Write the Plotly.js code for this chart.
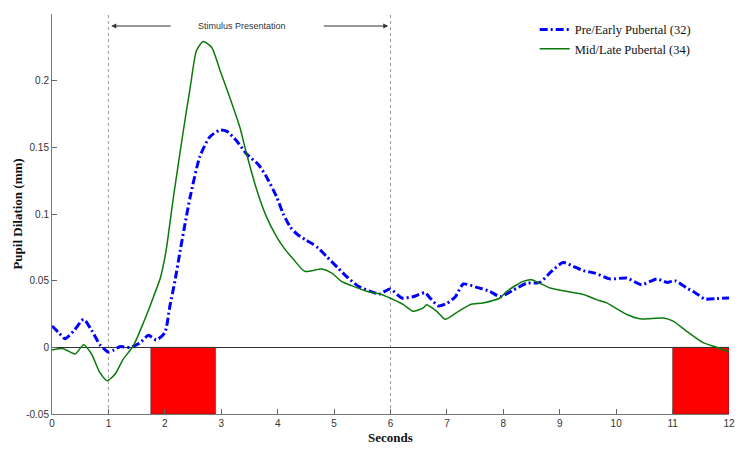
<!DOCTYPE html>
<html>
<head>
<meta charset="utf-8">
<script src="https://cdn.plot.ly/plotly-3.0.1.min.js"></script>
<style>html,body{margin:0;padding:0;background:#fff;}#chart{width:750px;height:453px;}</style>
</head>
<body>
<div id="chart"></div>
<script>
// Pre/Early Pubertal (32)
const blueX = [0,0.12,0.23,0.4,0.56,0.7,0.85,1.0,1.1,1.2,1.38,1.55,1.71,1.85,2.0,2.09,2.18,2.27,2.36,2.45,2.62,2.80,2.98,3.10,3.27,3.45,3.66,3.80,3.98,4.1,4.22,4.34,4.48,4.60,4.72,4.87,5.07,5.25,5.43,5.64,5.81,5.99,6.2,6.40,6.61,6.70,6.85,7.0,7.15,7.29,7.53,7.76,7.94,8.18,8.41,8.65,8.83,9.06,9.24,9.42,9.62,9.89,10.19,10.45,10.72,10.9,11.04,11.25,11.4,11.57,11.78,12.0];
const blueY = [0.016,0.011,0.0065,0.013,0.021,0.013,0.002,-0.0035,-0.002,0.0005,0,0.003,0.009,0.0055,0.011,0.031,0.05,0.072,0.093,0.113,0.143,0.158,0.163,0.162,0.155,0.145,0.137,0.128,0.113,0.1,0.0905,0.085,0.081,0.078,0.0744,0.068,0.0595,0.052,0.0458,0.042,0.040,0.0438,0.037,0.038,0.041,0.037,0.031,0.033,0.038,0.0475,0.045,0.042,0.038,0.043,0.048,0.0487,0.056,0.0637,0.0607,0.0575,0.0557,0.0513,0.052,0.047,0.0513,0.0487,0.050,0.0445,0.041,0.0363,0.0366,0.037];
// Mid/Late Pubertal (34)
const greenX = [0,0.2,0.41,0.56,0.70,0.85,0.98,1.12,1.26,1.44,1.62,1.80,1.92,2.02,2.15,2.33,2.45,2.56,2.68,2.83,2.98,3.15,3.33,3.45,3.63,3.80,3.98,4.12,4.28,4.48,4.78,4.96,5.13,5.31,5.58,5.81,5.99,6.23,6.40,6.58,6.64,6.82,6.97,7.17,7.41,7.64,7.94,8.06,8.35,8.50,8.65,8.83,9.18,9.42,9.65,9.83,10.19,10.42,10.84,11.01,11.25,11.54,11.78,12.0];
const greenY = [-0.002,-0.001,-0.005,0.002,-0.005,-0.019,-0.025,-0.020,-0.009,0.001,0.0184,0.038,0.052,0.072,0.112,0.163,0.195,0.2224,0.2294,0.225,0.2075,0.1876,0.165,0.145,0.118,0.098,0.083,0.074,0.066,0.057,0.0587,0.0557,0.0495,0.0463,0.042,0.040,0.037,0.032,0.027,0.0296,0.032,0.027,0.021,0.026,0.032,0.0333,0.037,0.042,0.0495,0.0507,0.048,0.0445,0.0415,0.0396,0.0358,0.0333,0.0246,0.0214,0.022,0.0196,0.012,0.0035,0,-0.0035];

const seriesNames = ["Pre/Early Pubertal (32)", "Mid/Late Pubertal (34)"];
// red blocks: [start, end] in seconds, spanning from y=-0.05 to 0
const redStarts = [1.75, 11.0];
const redEnds = [2.9, 12.0];
const redBottom = -0.05;
const redTop = 0;
// stimulus window markers
const stimLines = [1, 6];
const stimLabel = "Stimulus Presentation";

const xTicks = [0,1,2,3,4,5,6,7,8,9,10,11,12];
const yTickVals = [-0.05,0,0.05,0.1,0.15,0.2];
const yTickText = ["-0.05","0","0.05","0.1","0.15","0.2"];

const shapes = [];
for (let i = 0; i < redStarts.length; i++) {
  shapes.push({type:'rect', xref:'x', yref:'y', x0:redStarts[i], x1:redEnds[i], y0:redBottom, y1:redTop,
    fillcolor:'#ff0000', line:{color:'#333', width:0.5}, layer:'below'});
}
stimLines.forEach(v => shapes.push({type:'line', xref:'x', yref:'paper', x0:v, x1:v, y0:0, y1:1,
  line:{color:'#999', width:1, dash:'dot'}, layer:'below'}));

const traces = [
  {x: blueX, y: blueY, name: seriesNames[0], type:'scatter', mode:'lines',
   line:{color:'#0000ff', width:3, dash:'8px,3px,2px,3px', shape:'spline', smoothing:0.6}},
  {x: greenX, y: greenY, name: seriesNames[1], type:'scatter', mode:'lines',
   line:{color:'#0b7a0b', width:1.5, shape:'spline', smoothing:0.6}}
];

const arrowY = 0.241;
const layout = {
  width:750, height:453,
  margin:{l:52, r:21, t:14, b:39},
  paper_bgcolor:'#fff', plot_bgcolor:'#fff',
  showlegend:true,
  legend:{x:0.713, y:0.998, xanchor:'left', yanchor:'top', bgcolor:'rgba(0,0,0,0)',
    font:{family:'Liberation Serif, Times New Roman, serif', size:12.5, color:'#111'},
    itemwidth:30, tracegroupgap:0},
  xaxis:{range:[0,12], tickvals:xTicks, ticks:'inside', ticklen:5, tickcolor:'#666',
    showline:true, linecolor:'#777', linewidth:1, mirror:false, showgrid:false, zeroline:false,
    tickfont:{family:'Liberation Sans, Arial, sans-serif', size:10, color:'#333'},
    title:{text:'<b>Seconds</b>', font:{family:'Liberation Serif, Times New Roman, serif', size:13, color:'#111'}, standoff:4}},
  yaxis:{range:[-0.05,0.25], tickvals:yTickVals, ticktext:yTickText, ticks:'inside', ticklen:5, tickcolor:'#666',
    showline:true, linecolor:'#777', linewidth:1, mirror:false, showgrid:false,
    zeroline:true, zerolinecolor:'#333', zerolinewidth:1,
    tickfont:{family:'Liberation Sans, Arial, sans-serif', size:10, color:'#333'},
    title:{text:'<b>Pupil Dilation (mm)</b>', font:{family:'Liberation Serif, Times New Roman, serif', size:13, color:'#111'}, standoff:0}},
  shapes: shapes,
  annotations:[
    {x:stimLines[0]+0.05, y:arrowY, xref:'x', yref:'y', ax:2.13, ay:arrowY, axref:'x', ayref:'y',
     showarrow:true, arrowhead:2, arrowsize:1, arrowwidth:1, arrowcolor:'#333', text:''},
    {x:stimLines[1]-0.04, y:arrowY, xref:'x', yref:'y', ax:4.79, ay:arrowY, axref:'x', ayref:'y',
     showarrow:true, arrowhead:2, arrowsize:1, arrowwidth:1, arrowcolor:'#333', text:''},
    {x:3.37, y:arrowY, xref:'x', yref:'y', text:stimLabel, showarrow:false,
     font:{family:'Liberation Sans, Arial, sans-serif', size:9, color:'#333'}}
  ]
};

Plotly.newPlot('chart', traces, layout, {displayModeBar:false, staticPlot:true});
</script>
</body>
</html>
